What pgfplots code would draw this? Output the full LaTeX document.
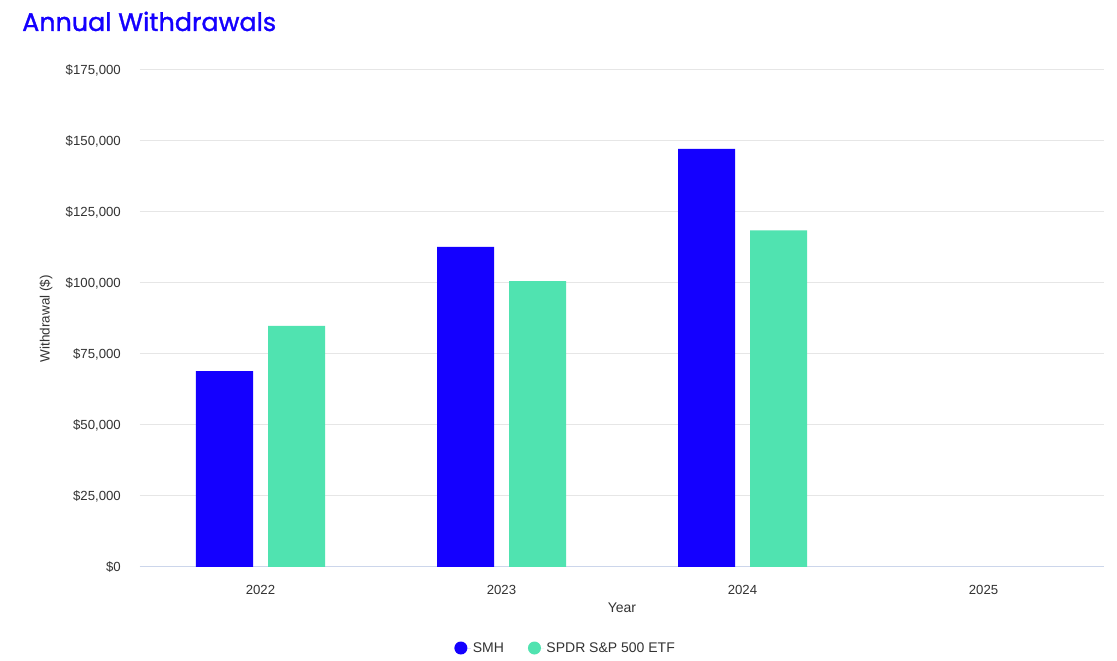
\documentclass[border=0pt]{standalone}
\usepackage{pgfplots}
\pgfplotsset{compat=1.18}
\usepackage{fontspec}
\setmainfont{Liberation Sans}
\newfontfamily\titlefont[FakeBold=1.2]{Poppins}
\definecolor{smh}{RGB}{20,0,255}
\definecolor{spdr}{RGB}{80,227,176}
\definecolor{gridc}{RGB}{230,230,230}
\definecolor{axisline}{RGB}{204,214,235}
\definecolor{ticktext}{RGB}{51,51,51}
\begin{document}
\begin{tikzpicture}
\path[use as bounding box, fill=white] (0,0) rectangle (1117pt,661pt);
\node[anchor=base west, text=smh, font=\titlefont\fontsize{25.4}{29}\selectfont, inner sep=0] at (22pt,630pt) {Annual Withdrawals};
\begin{axis}[
  at={(140pt,94pt)}, anchor=south west, scale only axis,
  width=964pt, height=497pt,
  ybar, bar width=57pt, ybar=15pt,
  xmin=-0.5, xmax=3.5, ymin=0, ymax=175000,
  xtick={0,1,2,3}, xticklabels={2022,2023,2024,2025},
  ytick={0,25000,50000,75000,100000,125000,150000,175000},
  scaled y ticks=false,
  yticklabel={\$\pgfmathprintnumber[fixed,1000 sep={,}]{\tick}},
  /pgf/number format/assume math mode=true,
  ymajorgrids, grid style={gridc, line width=1pt},
  axis x line*=bottom, axis y line*=left,
  x axis line style={axisline, line width=1pt, -},
  y axis line style={draw=none},
  tick style={draw=none},
  tick label style={font=\fontsize{13.2}{15}\selectfont, text=ticktext},
  xticklabel style={inner sep=0pt, anchor=center, yshift=-19pt},
  yticklabel style={inner sep=0pt, anchor=east, xshift=-19pt},
  legend style={at={(0.4415,-0.163)}, anchor=center, draw=none, fill=none,
    legend columns=2, font=\fontsize{14}{16}\selectfont, text=ticktext,
    /tikz/every even column/.append style={column sep=22pt}},
  legend image code/.code={\fill[#1] (0pt,0pt) circle (6.5pt); \path (-6.5pt,0pt) -- (10pt,0pt);},
  clip=false,
]
\addplot[fill=smh, draw=none] coordinates {(0,69000) (1,112700) (2,147200)};
\addplot[fill=spdr, draw=none] coordinates {(0,84900) (1,100700) (2,118500)};
\legend{SMH, SPDR S\&P 500 ETF}
\node[xshift=-94pt, rotate=90, font=\fontsize{13.5}{16}\selectfont, text=ticktext] at (rel axis cs:0,0.5) {Withdrawal (\$)};
\node[yshift=-41pt, font=\fontsize{14}{16}\selectfont, text=ticktext] at (rel axis cs:0.5,0) {Year};
\end{axis}
\end{tikzpicture}
\end{document}
